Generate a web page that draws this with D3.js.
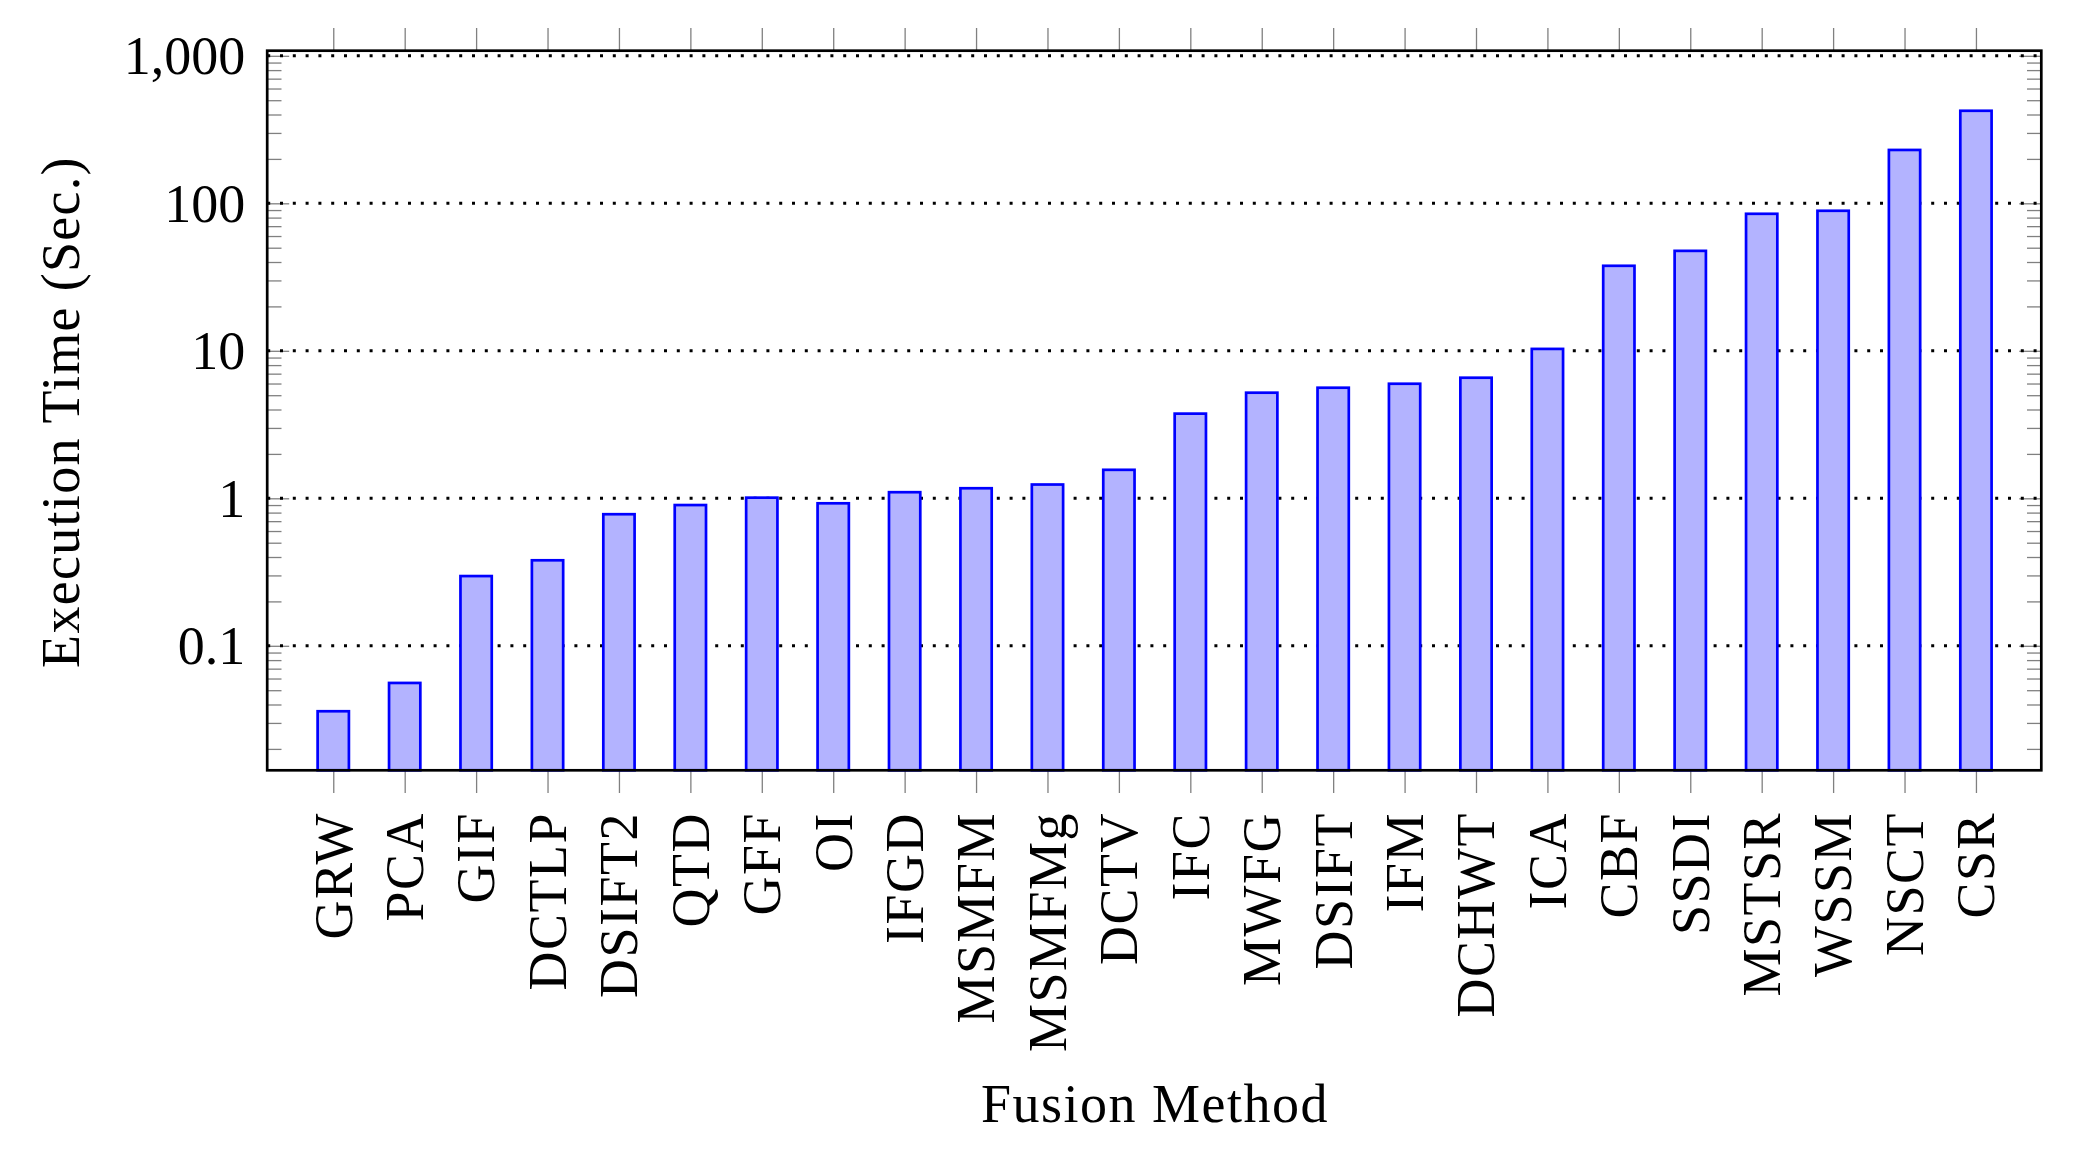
<!DOCTYPE html>
<html>
<head>
<meta charset="utf-8">
<script src="https://cdn.jsdelivr.net/npm/d3@7"></script>
<style>
  html, body { margin: 0; padding: 0; background: #ffffff; }
  svg text { font-family: "Liberation Serif", "DejaVu Serif", serif; fill: #000; }
</style>
</head>
<body>
<svg id="chart" width="2073" height="1153"></svg>
<script>
// data
const categories = ['GRW', 'PCA', 'GIF', 'DCTLP', 'DSIFT2', 'QTD', 'GFF', 'OI', 'IFGD', 'MSMFM',
  'MSMFMg', 'DCTV', 'IFC', 'MWFG', 'DSIFT', 'IFM', 'DCHWT', 'ICA', 'CBF', 'SSDI',
  'MSTSR', 'WSSM', 'NSCT', 'CSR'];
const times = [0.036, 0.056, 0.297, 0.38, 0.78, 0.90, 1.01, 0.925, 1.10, 1.17,
  1.24, 1.56, 3.75, 5.2, 5.62, 5.98, 6.57, 10.3, 37.7, 47.6,
  84.9, 89, 230, 424];
const yTicks = [0.1, 1, 10, 100, 1000];
const yTickLabels = ['0.1', '1', '10', '100', '1,000'];
const yMinorTicks = [];
[0.01, 0.1, 1, 10, 100].forEach(d => {
  for (let k = 2; k <= 9; k++) yMinorTicks.push(d * k);
});

const plotLeft = 267.2, plotRight = 2041.3, plotTop = 50.7, plotBottom = 770.3;
const fontSize = 54;

const svg = d3.select('#chart');

const x = d3.scaleLinear()
  .domain([-0.925, 23.915])
  .range([plotLeft, plotRight]);

const y = d3.scaleLog()
  .domain([0.01432, 1083])
  .range([plotBottom, plotTop]);

const minorTicks = yMinorTicks.filter(v => v > y.domain()[0] && v < y.domain()[1]);
const barWidth = (x(1) - x(0)) * 0.438;

// tick marks (grey)
const tickGrey = '#808080';

function greyTicks(g) {
  g.select('.domain').remove();
  g.selectAll('line').attr('stroke', tickGrey).attr('stroke-width', 1.3);
}

svg.append('g')
  .attr('transform', `translate(0,${plotBottom})`)
  .call(d3.axisBottom(x).tickValues(d3.range(categories.length)).tickFormat('')
    .tickSize(22.7).tickSizeOuter(0))
  .call(greyTicks)
  .call(g => g.selectAll('text').remove());

svg.append('g')
  .attr('transform', `translate(0,${plotTop})`)
  .call(d3.axisTop(x).tickValues(d3.range(categories.length)).tickFormat('')
    .tickSize(22.7).tickSizeOuter(0))
  .call(greyTicks)
  .call(g => g.selectAll('text').remove());

// y axis, left: major inward ticks + labels
svg.append('g')
  .attr('transform', `translate(${plotLeft},0)`)
  .call(d3.axisLeft(y).tickValues(yTicks)
    .tickFormat((d, i) => yTickLabels[i])
    .tickSize(-22).tickSizeOuter(0).tickPadding(22))
  .call(greyTicks)
  .call(g => g.selectAll('text')
    .attr('font-size', fontSize)
    .attr('font-family', '"Liberation Serif", serif')
    .attr('dy', '0.33em')
    .attr('fill', '#000'));

svg.append('g')
  .attr('transform', `translate(${plotLeft},0)`)
  .call(d3.axisLeft(y).tickValues(minorTicks).tickFormat('')
    .tickSize(-14.3).tickSizeOuter(0))
  .call(greyTicks);

// y axis, right: inward ticks
svg.append('g')
  .attr('transform', `translate(${plotRight},0)`)
  .call(d3.axisRight(y).tickValues(yTicks).tickFormat('')
    .tickSize(-22).tickSizeOuter(0))
  .call(greyTicks);

svg.append('g')
  .attr('transform', `translate(${plotRight},0)`)
  .call(d3.axisRight(y).tickValues(minorTicks).tickFormat('')
    .tickSize(-14.3).tickSizeOuter(0))
  .call(greyTicks);

// dotted grid
svg.append('g')
  .selectAll('line')
  .data(yTicks)
  .join('line')
  .attr('x1', plotLeft)
  .attr('x2', plotRight)
  .attr('y1', d => y(d))
  .attr('y2', d => y(d))
  .attr('stroke', '#000')
  .attr('stroke-width', 2.9)
  .attr('stroke-dasharray', '3 9.8');

// bars
svg.append('g')
  .selectAll('rect')
  .data(times)
  .join('rect')
  .attr('x', (d, i) => x(i) - barWidth / 2)
  .attr('width', barWidth)
  .attr('y', d => y(d))
  .attr('height', d => plotBottom - y(d))
  .attr('fill', '#b3b3ff')
  .attr('stroke', '#0000ff')
  .attr('stroke-width', 2.7);

// frame
svg.append('rect')
  .attr('x', plotLeft)
  .attr('y', plotTop)
  .attr('width', plotRight - plotLeft)
  .attr('height', plotBottom - plotTop)
  .attr('fill', 'none')
  .attr('stroke', '#000')
  .attr('stroke-width', 2.7);

// category labels
svg.append('g')
  .selectAll('text')
  .data(categories)
  .join('text')
  .attr('transform', (d, i) => `translate(${x(i)},812) rotate(-90)`)
  .attr('text-anchor', 'end')
  .attr('dy', '0.34em')
  .attr('font-size', fontSize)
  .attr('letter-spacing', 1.5)
  .text(d => d);

// axis titles
svg.append('text')
  .attr('x', 1155)
  .attr('y', 1122.3)
  .attr('text-anchor', 'middle')
  .attr('font-size', fontSize)
  .attr('letter-spacing', 1.5)
  .text('Fusion Method');

svg.append('text')
  .attr('transform', 'translate(79,412) rotate(-90)')
  .attr('text-anchor', 'middle')
  .attr('font-size', fontSize)
  .attr('letter-spacing', 1.3)
  .text('Execution Time (Sec.)');
</script>
</body>
</html>
